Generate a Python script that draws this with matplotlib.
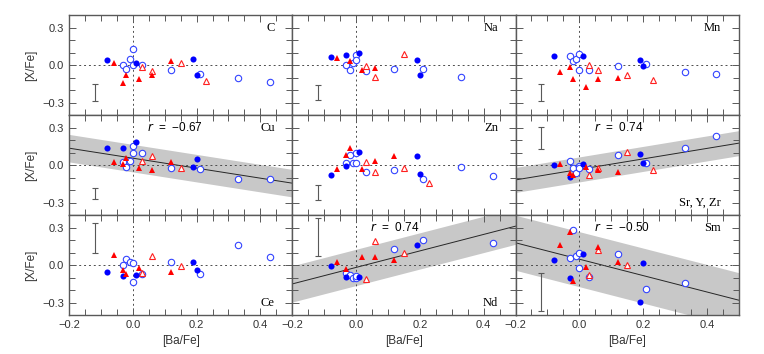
import numpy as np
import matplotlib
matplotlib.use("Agg")
import matplotlib.pyplot as plt
from matplotlib.ticker import MultipleLocator

plt.rcParams['font.family'] = ['Liberation Sans', 'DejaVu Sans']
plt.rcParams['font.size'] = 8

nan = np.nan

# [Ba/Fe] of the four star groups
bf_x = [-0.08, -0.03, 0.01, 0.19, 0.20]                                  # blue filled circles
bo_x = [-0.03, -0.02, -0.01, 0.0, 0.0, 0.03, 0.12, 0.21, 0.33, 0.43]     # blue open circles
rf_x = [-0.06, -0.03, -0.02, 0.02, 0.06, 0.12]                           # red filled triangles
ro_x = [0.03, 0.06, 0.15, 0.23]                                          # red open triangles

elements = ["C", "Na", "Mn", "Cu", "Zn", "Sr, Y, Zr", "Ce", "Nd", "Sm"]
label_top = [True, True, True, True, True, False, False, False, True]

# [X/Fe] per panel, same order as the x arrays above
bf_y = [
    [0.037, nan, 0.019, 0.048, -0.083],
    [0.061, 0.083, 0.093, 0.043, -0.080],
    [0.069, nan, 0.069, 0.040, -0.011],
    [0.138, 0.138, 0.181, -0.014, 0.046],
    [-0.081, -0.005, 0.108, 0.070, -0.070],
    [0.000, -0.092, 0.008, 0.089, 0.016],
    [-0.059, -0.089, -0.078, 0.022, -0.038],
    [-0.011, -0.092, -0.092, 0.159, nan],
    [0.041, -0.103, 0.092, -0.292, 0.019],
]
bo_y = [
    [0.000, -0.032, 0.045, 0.125, -0.003, -0.003, -0.043, -0.072, -0.100, -0.139],
    [0.003, -0.040, 0.019, 0.077, 0.043, -0.050, -0.029, -0.029, -0.099, nan],
    [0.072, 0.029, 0.048, 0.088, -0.040, -0.040, -0.008, 0.011, -0.059, -0.069],
    [0.027, -0.014, 0.035, 0.149, 0.097, 0.097, -0.024, -0.032, -0.114, -0.114],
    [0.016, 0.078, 0.016, 0.016, 0.100, -0.054, -0.043, -0.108, -0.014, -0.084],
    [0.030, -0.024, -0.062, -0.011, -0.024, -0.035, 0.078, 0.016, 0.138, 0.230],
    [0.003, 0.051, 0.022, 0.014, -0.138, -0.073, 0.022, -0.070, 0.162, 0.062],
    [-0.062, -0.076, -0.100, -0.103, -0.090, nan, 0.130, 0.203, nan, 0.178],
    [0.059, 0.281, 0.070, 0.097, -0.022, -0.095, 0.089, -0.192, -0.141, nan],
]
rf_y = [
    [0.013, -0.147, -0.077, -0.109, -0.077, 0.035],
    [0.053, nan, 0.035, -0.040, -0.027, nan],
    [-0.053, -0.016, -0.112, -0.176, -0.112, -0.104],
    [0.022, 0.008, 0.057, -0.027, -0.038, 0.022],
    [-0.030, 0.084, 0.135, -0.030, 0.032, 0.073],
    [0.005, -0.065, -0.080, -0.019, -0.041, -0.059],
    [0.078, -0.038, -0.070, -0.027, nan, -0.054],
    [0.024, -0.032, nan, 0.068, 0.068, 0.043],
    [0.157, 0.268, -0.127, -0.016, 0.146, 0.024],
]
ro_y = [
    [-0.013, -0.048, 0.013, -0.125],
    [-0.011, -0.093, 0.088, nan],
    [0.003, -0.043, -0.083, -0.123],
    [0.035, 0.076, -0.027, nan],
    [0.022, -0.059, -0.027, -0.141],
    [-0.078, -0.024, 0.103, -0.038],
    [-0.062, 0.073, -0.011, nan],
    [-0.108, 0.195, 0.095, nan],
    [-0.076, 0.119, 0.003, nan],
]

# typical error bar per panel (centre, half length)
err_y = [-0.22, -0.22, -0.22, -0.225, -0.22, 0.215, 0.22, 0.225, -0.216]
err_h = [0.07, 0.06, 0.07, 0.045, 0.06, 0.09, 0.12, 0.155, 0.15]

# linear fits: panel index, r, intercept, slope, band half width
fit_panel = [3, 5, 7, 8]
fit_r = ["\u22120.67", "0.74", "0.74", "\u22120.50"]
fit_a = [0.055, -0.035, -0.019, 0.047]
fit_b = [-0.40, 0.42, 0.66, -0.656]
fit_w = [0.11, 0.10, 0.145, 0.22]

fig, axes = plt.subplots(3, 3, figsize=(7.64, 3.54), dpi=100, sharex=True, sharey=True)
fig.subplots_adjust(left=0.0903, right=0.967, top=0.9576, bottom=0.110, wspace=0, hspace=0)

frame = "0.35"
xx = np.linspace(-0.2, 0.5, 50)

for i, ax in enumerate(axes.flat):
    ax.set_xlim(-0.2, 0.5)
    ax.set_ylim(-0.4, 0.4)

    if i in fit_panel:
        k = fit_panel.index(i)
        yy = fit_a[k] + fit_b[k] * xx
        ax.fill_between(xx, yy - fit_w[k], yy + fit_w[k], color="#c8c8c8", lw=0, zorder=0)
        ax.plot(xx, yy, color="0.15", lw=0.7, zorder=1)
        ax.text(0.045, 0.3, "$r$  =  " + fit_r[k], ha="left", va="center", fontsize=8.5)

    ax.axhline(0, color="0.3", lw=0.7, dashes=(2, 3), zorder=1)
    ax.axvline(0, color="0.3", lw=0.7, dashes=(2, 3), zorder=1)

    ax.errorbar(-0.12, err_y[i], yerr=err_h[i], color="0.35", lw=0.8, capsize=2.5, capthick=0.8, zorder=2)

    ax.plot(bo_x, bo_y[i], "o", ms=4.6, mfc="white", mec="#3344ff", mew=0.8, ls="none", zorder=3)
    ax.plot(ro_x, ro_y[i], "^", ms=5.0, mfc="white", mec="#ff2020", mew=0.8, ls="none", zorder=3)
    ax.plot(bf_x, bf_y[i], "o", ms=4.4, color="#0000ff", mew=0, ls="none", zorder=4)
    ax.plot(rf_x, rf_y[i], "^", ms=5.0, color="#ff0000", mew=0, ls="none", zorder=4)

    ty = 0.3 if label_top[i] else -0.3
    ax.text(0.445, ty, elements[i], ha="right", va="center", fontsize=9,
            family=["Liberation Serif", "DejaVu Serif"])

    ax.xaxis.set_major_locator(MultipleLocator(0.2))
    ax.xaxis.set_minor_locator(MultipleLocator(0.05))
    ax.yaxis.set_major_locator(MultipleLocator(0.3))
    ax.yaxis.set_minor_locator(MultipleLocator(0.1))
    ax.tick_params(which="both", direction="in", top=True, right=True, color=frame,
                   labelcolor="0.2", labelsize=8)
    ax.tick_params(which="major", length=5, width=0.7)
    ax.tick_params(which="minor", length=4, width=0.7)
    for s in ax.spines.values():
        s.set_color(frame)
        s.set_linewidth(1.0)

for ax in axes[:, 0]:
    ax.set_ylabel("[X/Fe]", fontsize=8.5, color="0.2", labelpad=4)
    ax.set_yticks([-0.3, 0.0, 0.3])
    ax.set_yticklabels(["\u22120.3", "0.0", "0.3"])
for ax in axes[2, :]:
    ax.set_xlabel("[Ba/Fe]", fontsize=8.5, color="0.2")
    ax.set_xticks([-0.2, 0.0, 0.2, 0.4])
    ax.set_xticklabels(["\u22120.2", "0.0", "0.2", "0.4"])

fig.savefig("out.png", dpi=100)
